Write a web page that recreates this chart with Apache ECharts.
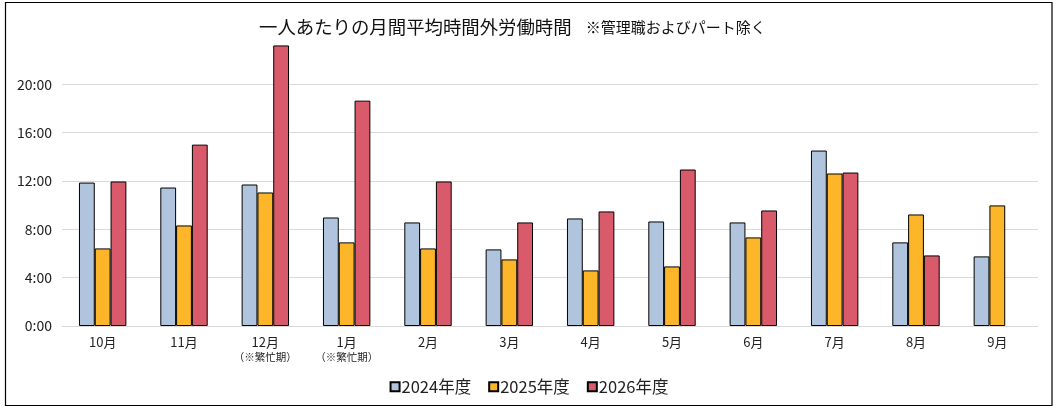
<!DOCTYPE html>
<html>
<head>
<meta charset="utf-8">
<script src="https://cdn.jsdelivr.net/npm/echarts@6/dist/echarts.min.js"></script>
<style>
  html, body { margin: 0; padding: 0; background: #fff; }
  #chart { width: 1058px; height: 412px; }
</style>
</head>
<body>
<div id="chart"></div>
<script>
// 月 (category labels)
var months = ["10月", "11月", "12月", "1月", "2月", "3月", "4月", "5月", "6月", "7月", "8月", "9月"];
var busyMonths = ["12月", "1月"];
// overtime per person, hours
var fy2024 = [11.87, 11.46, 11.71, 8.98, 8.57, 6.34, 8.90, 8.65, 8.57, 14.52, 6.92, 5.76];
var fy2025 = [6.42, 8.32, 11.05, 6.92, 6.42, 5.51, 4.60, 4.93, 7.33, 12.62, 9.23, 9.98];
var fy2026 = [11.96, 15.01, 23.22, 18.65, 11.96, 8.57, 9.48, 12.95, 9.56, 12.70, 5.84, null];
var seriesNames = ["2024年度", "2025年度", "2026年度"];
var colors = ["#b0c4de", "#fdb62a", "#d95b6b"];

var font = "'Noto Sans CJK JP', 'Noto Sans', sans-serif";

var chart = echarts.init(document.getElementById("chart"));

function barSeries(name, data, color) {
  return {
    name: name,
    type: "bar",
    data: data,
    barWidth: 15.8,
    barGap: "0%",
    itemStyle: { color: color, borderColor: "#000", borderWidth: 1 },
    emphasis: { disabled: true }
  };
}

var option = {
  animation: false,
  backgroundColor: "#fff",
  textStyle: { fontFamily: font },
  title: {
    text: "{m|一人あたりの月間平均時間外労働時間}{s|※管理職およびパート除く}",
    left: 254,
    top: 13,
    textStyle: {
      fontWeight: "normal",
      rich: {
        m: { fontSize: 18.4, color: "#111", fontFamily: font, fontWeight: "normal" },
        s: { fontSize: 15, color: "#111", fontFamily: font, fontWeight: "normal", padding: [0, 0, 0, 14] }
      }
    }
  },
  legend: {
    bottom: 12,
    left: "center",
    itemWidth: 9,
    itemHeight: 9,
    itemGap: 17,
    icon: "rect",
    textStyle: { fontSize: 16.5, color: "#222", fontFamily: font, padding: [0, 0, 0, -3] },
    data: seriesNames
  },
  grid: { left: 62, right: 20, top: 36, bottom: 86 },
  xAxis: {
    type: "category",
    data: months,
    axisTick: { show: false },
    axisLine: { lineStyle: { color: "#d9d9d9" } },
    axisLabel: {
      interval: 0,
      color: "#222",
      fontSize: 13,
      margin: 8,
      lineHeight: 16,
      formatter: function (v) {
        return busyMonths.indexOf(v) >= 0 ? v + "\n{s|（※繁忙期）}" : v;
      },
      rich: { s: { fontSize: 10.5, color: "#222", lineHeight: 14 } }
    }
  },
  yAxis: {
    type: "value",
    min: 0,
    max: 24,
    interval: 4,
    axisLine: { show: false },
    axisTick: { show: false },
    splitLine: { showMaxLine: false, lineStyle: { color: "#d9d9d9" } },
    axisLabel: {
      color: "#222",
      fontSize: 14,
      margin: 10,
      formatter: function (v) { return v >= 24 ? "" : v + ":00"; }
    }
  },
  graphic: [{
    type: "rect",
    shape: { x: 5.5, y: 2.5, width: 1046.5, height: 403 },
    style: { fill: null, stroke: "#000", lineWidth: 1.2 },
    silent: true
  }],
  series: [
    barSeries(seriesNames[0], fy2024, colors[0]),
    barSeries(seriesNames[1], fy2025, colors[1]),
    barSeries(seriesNames[2], fy2026, colors[2])
  ]
};

chart.setOption(option);
</script>
</body>
</html>
